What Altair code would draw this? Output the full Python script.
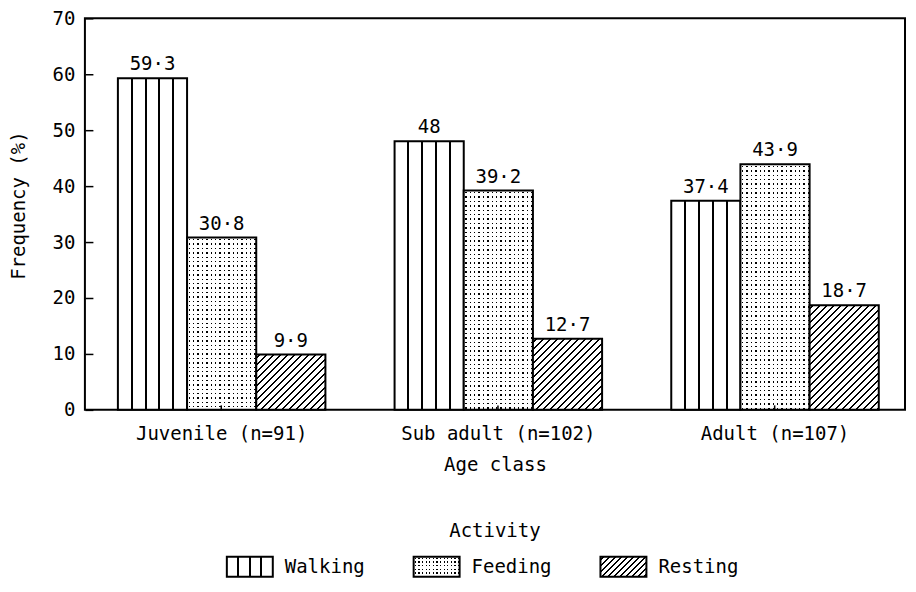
import altair as alt
import pandas as pd
import numpy as np

# ---------------- data ----------------
age_classes = ["Juvenile (n=91)", "Sub adult (n=102)", "Adult (n=107)"]
activities = ["Walking", "Feeding", "Resting"]
walking = [59.3, 48.0, 37.4]
feeding = [30.8, 39.2, 43.9]
resting = [9.9, 12.7, 18.7]
walking_labels = ["59·3", "48", "37·4"]
feeding_labels = ["30·8", "39·2", "43·9"]
resting_labels = ["9·9", "12·7", "18·7"]
y_ticks = [0, 10, 20, 30, 40, 50, 60, 70]

# ---------------- layout / style ----------------
FONT = "DejaVu Sans Mono"
FS = 19
PLOT_W = 821
PLOT_H = 392
Y_MAX = 70
PAD_INNER = 0.25
PAD_OUTER = 0.107
ALIGN = 0.557
STEP = PLOT_W / (3 - PAD_INNER + 2 * PAD_OUTER)
BAR_W = STEP * (1 - PAD_INNER) / 3
WHITE = "#ffffff"
BLACK = "#000000"
CLEAR = "rgba(255,255,255,0)"

rows = []
for vals, labs, act in [(walking, walking_labels, "Walking"),
                        (feeding, feeding_labels, "Feeding"),
                        (resting, resting_labels, "Resting")]:
    for age, v, lab in zip(age_classes, vals, labs):
        rows.append({"age": age, "activity": act, "value": v, "label": lab})
df = pd.DataFrame(rows)


def stops_for(length, centers, lw, bg, fg):
    st = [(0.0, bg)]
    last = 0.0
    for c in centers:
        a = max(last, (c - lw / 2) / length)
        b = min(1.0, (c + lw / 2) / length)
        if b <= a:
            continue
        st += [(a, bg), (a, fg), (b, fg), (b, bg)]
        last = b
    st.append((1.0, bg))
    return [alt.GradientStop(color=col, offset=float(round(o, 5))) for o, col in st]


def vlines_fill(w, n_sections, lw=2.0):
    centers = [w * k / n_sections for k in range(1, n_sections)]
    return alt.LinearGradient(gradient="linear", stops=stops_for(w, centers, lw, WHITE, BLACK),
                              x1=0, y1=0, x2=1, y2=0)


def hatch_fill(w, h, d=7.0, lw=1.9):
    L = w + h
    centers = list(np.arange(d / 2, L, d))
    x2 = w * (w + h) / (w * w + h * h)
    y2 = h * (w + h) / (w * w + h * h)
    return alt.LinearGradient(gradient="linear", stops=stops_for(L, centers, lw, WHITE, BLACK),
                              x1=0, y1=0, x2=float(x2), y2=float(y2))


def dots_x(w, sp=4.4, g=1.4):
    centers = list(np.arange(sp / 2, w, sp))
    return alt.LinearGradient(gradient="linear", stops=stops_for(w, centers, g, WHITE, CLEAR),
                              x1=0, y1=0, x2=1, y2=0)


def dots_y(h, sp=4.4, g=1.4):
    centers = list(np.arange(sp / 2, h, sp))
    return alt.LinearGradient(gradient="linear", stops=stops_for(h, centers, g, WHITE, CLEAR),
                              x1=0, y1=0, x2=0, y2=1)


def px_h(v):
    return v / Y_MAX * PLOT_H


x_enc = alt.X("age:N", sort=age_classes,
              scale=alt.Scale(domain=age_classes, paddingInner=PAD_INNER,
                              paddingOuter=PAD_OUTER, align=ALIGN),
              axis=alt.Axis(title="Age class", labelAngle=0, offset=-5, tickSize=5,
                            domain=False, labelPadding=15, titlePadding=12, zindex=1,
                            labelLimit=400,
                            tickColor=BLACK, tickWidth=1.5,
                            labelFont=FONT, titleFont=FONT, labelFontSize=FS, titleFontSize=FS,
                            labelColor=BLACK, titleColor=BLACK, titleFontWeight="normal"))
xo_enc = alt.XOffset("activity:N", sort=activities,
                     scale=alt.Scale(domain=activities, paddingInner=0, paddingOuter=0))
y_enc = alt.Y("value:Q",
              scale=alt.Scale(domain=[0, Y_MAX], nice=False),
              axis=alt.Axis(title="Frequency (%)", values=y_ticks, offset=-8, tickSize=8,
                            domain=False, grid=False, labelPadding=10, titlePadding=24,
                            titleY=187,
                            tickColor=BLACK, tickWidth=1.5,
                            labelFont=FONT, titleFont=FONT, labelFontSize=FS, titleFontSize=FS,
                            labelColor=BLACK, titleColor=BLACK, titleFontWeight="normal"))


def bars(data, **mark):
    return alt.Chart(data).mark_bar(**mark).encode(x=x_enc, xOffset=xo_enc, y=y_enc)


layers = []
wd = df[df.activity == "Walking"]
layers.append(bars(wd, fill=vlines_fill(BAR_W, 5), stroke=BLACK, strokeWidth=2))

fd = df[df.activity == "Feeding"]
layers.append(bars(fd, fill=BLACK))
layers.append(bars(fd, fill=dots_x(BAR_W)))
for _, r in fd.iterrows():
    layers.append(bars(fd[fd.age == r.age], fill=dots_y(px_h(r.value)),
                       stroke=BLACK, strokeWidth=2))

rd = df[df.activity == "Resting"]
for _, r in rd.iterrows():
    layers.append(bars(rd[rd.age == r.age], fill=hatch_fill(BAR_W, px_h(r.value)),
                       stroke=BLACK, strokeWidth=2))

layers.append(alt.Chart(df).mark_text(baseline="bottom", dy=-4, font=FONT, fontSize=FS,
                                      color=BLACK)
              .encode(x=x_enc, xOffset=xo_enc, y=y_enc, text="label:N"))

main = alt.layer(*layers).properties(width=PLOT_W, height=PLOT_H)

# ---------------- legend panel ----------------
leg_df = pd.DataFrame({"activity": activities})
SW_W, SW_H = 46, 20
lx = alt.X("activity:N", sort=activities,
           scale=alt.Scale(domain=activities, paddingInner=0, paddingOuter=0.695, align=0.46),
           axis=None)


def swatch(act, **mark):
    return (alt.Chart(leg_df[leg_df.activity == act])
            .mark_bar(width=SW_W, xOffset=-48, **mark).encode(x=lx))


leg_layers = [
    swatch("Walking", fill=vlines_fill(SW_W, 4), stroke=BLACK, strokeWidth=2),
    swatch("Feeding", fill=BLACK),
    swatch("Feeding", fill=dots_x(SW_W, sp=3.6, g=1.3)),
    swatch("Feeding", fill=dots_y(SW_H, sp=3.6, g=1.3), stroke=BLACK, strokeWidth=2),
    swatch("Resting", fill=hatch_fill(SW_W, SW_H, d=6.0), stroke=BLACK, strokeWidth=2),
    alt.Chart(leg_df).mark_text(align="left", baseline="middle", dx=-13, font=FONT,
                                fontSize=FS, color=BLACK).encode(x=lx, text="activity:N"),
]
legend = alt.layer(*leg_layers).properties(
    width=PLOT_W, height=SW_H,
    view=alt.ViewBackground(stroke="transparent"),
    title=alt.TitleParams("Activity", anchor="middle", font=FONT, fontSize=FS,
                          fontWeight="normal", color=BLACK, offset=15))

chart = (alt.vconcat(main, legend, spacing=45)
         .properties(padding={"left": 0, "top": 0, "right": 2, "bottom": 0},
                     background=WHITE)
         .configure_view(stroke=BLACK, strokeWidth=2))

chart.save("out.html", embed_options={"renderer": "svg", "actions": False})
